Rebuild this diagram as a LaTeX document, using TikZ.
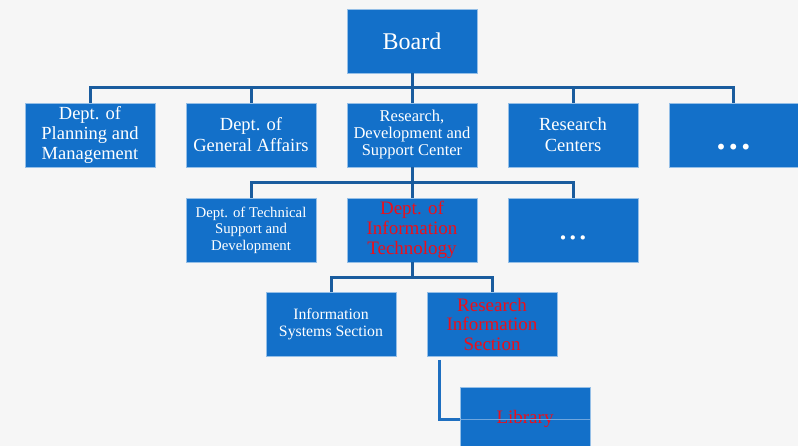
\documentclass[tikz,border=0pt]{standalone}
\usepackage{fontspec}
\setmainfont{Liberation Serif}
\definecolor{boxblue}{HTML}{1370C9}
\definecolor{lineblue}{HTML}{1A5C9E}
\definecolor{libline}{HTML}{1E6FC0}
\definecolor{bgcol}{HTML}{F6F6F6}
\definecolor{txtred}{HTML}{EC0F1A}
\definecolor{faint}{HTML}{6FA6DE}
\begin{document}
\begin{tikzpicture}[x=1pt,y=-1pt,
  orgbox/.style={rectangle, fill=boxblue, draw=white!55!boxblue, line width=0.8pt,
    minimum width=130pt, minimum height=64pt, inner sep=0pt, align=center,
    text=white, font=\fontsize{18.5}{21}\selectfont},
  redtxt/.style={text=txtred, font=\fontsize{19}{19.8}\selectfont},
  conn/.style={draw=lineblue, line width=3pt, line join=miter, line cap=butt}]
\useasboundingbox (0,0) rectangle (798,446);
\fill[bgcol] (0,0) rectangle (798,446);
\clip (0,0) rectangle (798,446);
% row 0
\node[orgbox, font=\fontsize{24}{26}\selectfont] (board) at (412,41) {Board};
% row 1
\node[orgbox, font=\fontsize{18.5}{20}\selectfont] (pm) at (90,135) {Dept. of\\Planning and\\Management};
\node[orgbox] (ga) at (251,135) {Dept. of\\General Affairs};
\node[orgbox, font=\fontsize{16.5}{17}\selectfont] (rdsc) at (412,135) {Research,\\Development and\\Support Center};
\node[orgbox] (rc) at (573,135) {Research\\Centers};
\node[orgbox, minimum width=129pt, font=\fontsize{36}{36}\selectfont\bfseries] (more) at (733.5,135) {\raisebox{-15pt}[0pt][0pt]{.\kern3.5pt.\kern3.5pt.}};
% row 2
\node[orgbox, font=\fontsize{14.8}{16.5}\selectfont] (tsd) at (251,230) {Dept. of Technical\\Support and\\Development};
\node[orgbox, redtxt] (it) at (412,230) {Dept. of\\Information\\Technology};
\node[orgbox, font=\fontsize{36}{36}\selectfont] (moretwo) at (573,230) {\raisebox{-10pt}[0pt][0pt]{.\kern1pt.\kern1pt.}};
% row 3
\node[orgbox, font=\fontsize{15.8}{17}\selectfont] (iss) at (331,324.5) {Information\\Systems Section};
\node[orgbox, redtxt] (ris) at (492,324.5) {Research\\Information\\Section};
% row 4
\node[orgbox, redtxt] (lib) at (525,419) {Library};
% connectors
\draw[conn] (pm.north) -- ++(0,-15) -| (more.north);
\draw[conn] (ga.north) -- ++(0,-15);
\draw[conn] (rc.north) -- ++(0,-15);
\draw[conn] (board.south) -- (rdsc.north);
\draw[conn] (tsd.north) -- ++(0,-15) -| (moretwo.north);
\draw[conn] (rdsc.south) -- (it.north);
\draw[conn] (iss.north) -- ++(0,-15) -| (ris.north);
\draw[conn] (it.south) -- ++(0,16);
\draw[conn, draw=libline] ([xshift=-53pt,yshift=-3pt]ris.south) |- (lib.west);
\draw[faint, line width=0.8pt] (lib.west) -- (lib.east);
\end{tikzpicture}
\end{document}
